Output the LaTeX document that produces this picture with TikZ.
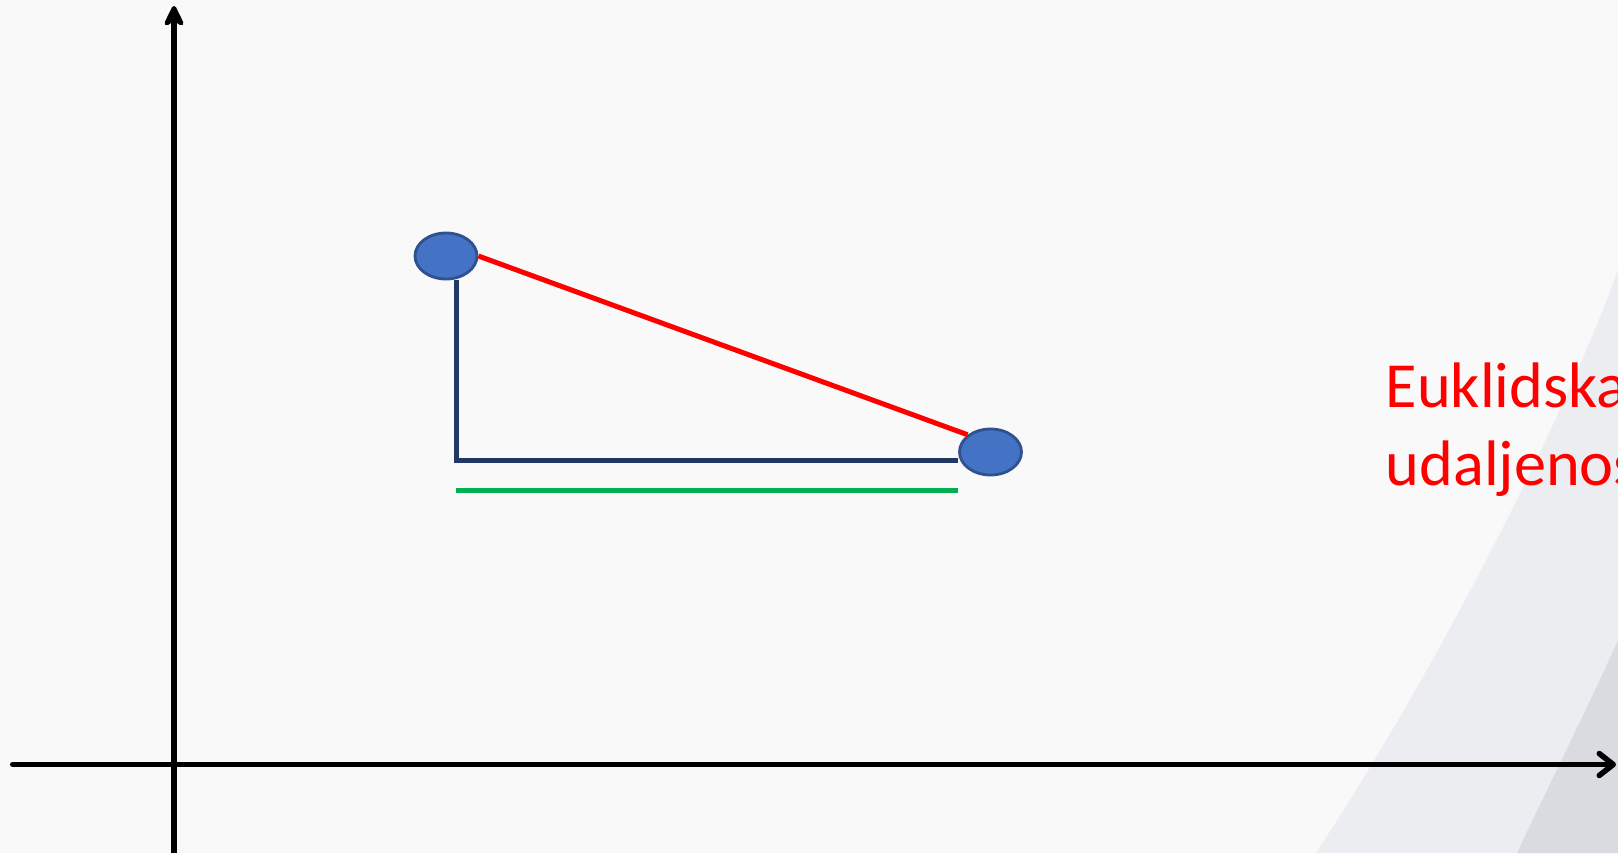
\documentclass[tikz,border=0pt]{standalone}
\usepackage{fontspec}
\setmainfont{Carlito}
\usetikzlibrary{shapes.geometric,arrows.meta,calc}
\definecolor{plava}{HTML}{4472C4}
\definecolor{rub}{HTML}{2F528F}
\definecolor{tamna}{HTML}{1F3864}
\definecolor{zelena}{HTML}{00B050}
\definecolor{pozadina}{HTML}{F9F9FA}
\definecolor{traka}{HTML}{ECEDF1}
\definecolor{trakb}{HTML}{D9DBE0}
\tikzset{tocka/.style={ellipse,draw=rub,line width=0.8pt,fill=plava,minimum width=0.62cm,minimum height=0.46cm,inner sep=0pt},
  os/.style={line width=0.05cm}}

\begin{document}
\begin{tikzpicture}[scale=1]
\useasboundingbox (0,0) rectangle (16.18,8.53);
\clip (0,0) rectangle (16.18,8.53);
\fill[pozadina] (0,0) rectangle (16.18,8.53);
\fill[traka] (13.16,0) .. controls (14.30,1.73) and (15.60,4.23) .. (16.18,5.83) -- (16.18,0) -- cycle;
\fill[trakb] (15.17,0) .. controls (15.5,0.7) and (15.9,1.5) .. (16.18,2.13) -- (16.18,0) -- cycle;
\coordinate (D) at (1.74,0); \coordinate (Y) at (1.74,8.47); \coordinate (L) at (0.127,0.885); \coordinate (X) at (16.16,0.885);
\draw[os,line width=0.055cm,-{Stealth[length=0.26cm,width=0.25cm,inset=0.08cm,round]}] (D)--(Y);
\draw[os,line width=0.055cm,line cap=round,-{Straight Barb[length=0.14cm,width=0.22cm,round]}] (L)--(X);
\node[tocka] (A) at (4.46,5.97) {}; \node[tocka] (B) at (9.905,4.01) {};
\coordinate (C) at (4.56,3.925); \coordinate (G) at (4.56,3.63);
\draw[os,tamna] (C |- A.south) -- (C) -- (C -| B.west);
\draw[os,zelena] (G) -- (G -| B.west);
\draw[os,red] (A.east) -- (B.north west);
\node[red,anchor=base west,align=left,inner sep=0pt,font=\fontsize{18.3}{22}\selectfont] (T) at (13.85,3.68) {Euklidska\\udaljenost};
\end{tikzpicture}
\end{document}
